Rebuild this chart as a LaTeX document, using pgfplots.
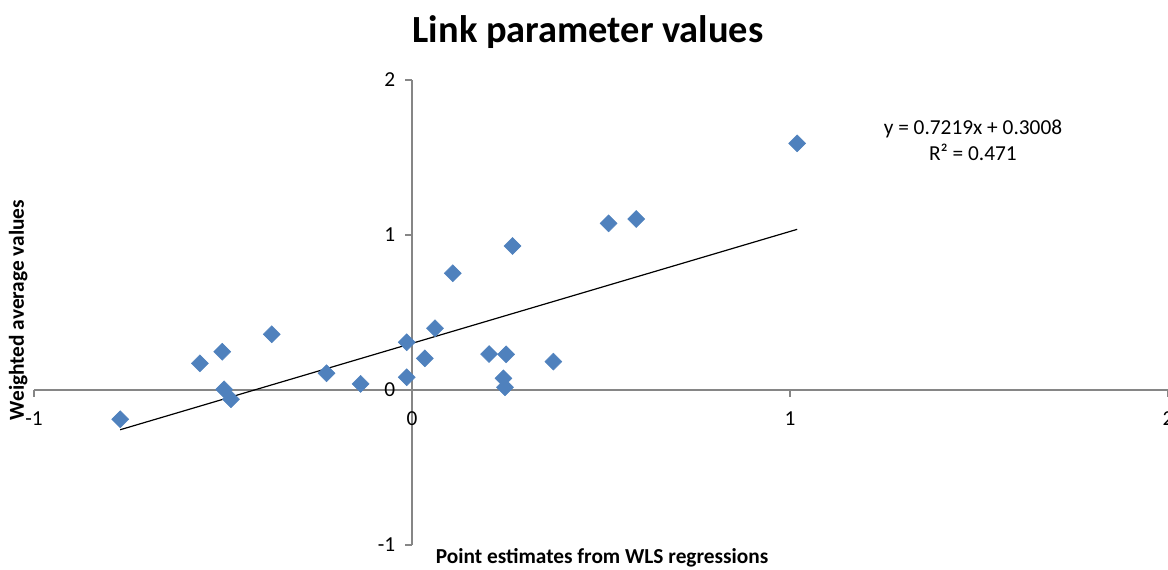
\documentclass[border=0pt]{standalone}
\usepackage{fontspec}
\setmainfont{Carlito}
\usepackage{pgfplots}
\pgfplotsset{compat=1.18}
\definecolor{exblue}{HTML}{4F81BD}
\definecolor{axgray}{HTML}{868686}
\begin{document}
\begin{tikzpicture}
\begin{axis}[
 scale only axis, width=850.5pt, height=348.75pt,
 xmin=-1, xmax=2, ymin=-1, ymax=2,
 axis lines=middle,
 axis line style={axgray, line width=0.9pt, -},
 xtick={-1,0,1,2}, ytick={-1,0,1,2},
 hide obscured x ticks=false, hide obscured y ticks=false,
 tick style={axgray, line width=0.9pt},
 major tick length=5pt, tick align=outside,
 ticklabel style={font=\fontsize{16}{19}\selectfont, text=black},
 /pgf/number format/assume math mode=true,
 xticklabel style={yshift=-8pt},
 yticklabel style={xshift=-4pt},
 clip=false,
]
\addplot[only marks, mark=square*, mark size=4.5pt, mark options={rotate=45, fill=exblue, draw=exblue}] coordinates {
(-0.772,-0.189) (-0.561,0.172) (-0.502,0.247) (-0.371,0.359) (-0.497,0.004)
(-0.479,-0.060) (-0.226,0.108) (-0.136,0.039) (-0.014,0.308) (-0.014,0.082)
(0.034,0.204) (0.061,0.398) (0.108,0.753) (0.266,0.929) (0.204,0.232)
(0.249,0.230) (0.374,0.183) (0.242,0.075) (0.246,0.017) (0.520,1.075)
(0.593,1.103) (1.019,1.591)
};
\addplot[black, line width=0.9pt] coordinates {(-0.772,-0.2565) (1.019,1.0364)};
\node[font=\fontsize{16}{19}\selectfont, align=center] at (axis cs:1.484,1.61) {y = 0.7219x + 0.3008\\R² = 0.471};
\node[font=\fontsize{28.8}{34}\selectfont\bfseries] at (axis cs:0.466,2.31) {Link parameter values};
\node[font=\fontsize{16}{19}\selectfont\bfseries, rotate=90] at (axis cs:-1.042,0.516) {Weighted average values};
\node[font=\fontsize{16}{19}\selectfont\bfseries] at (axis cs:0.503,-1.084) {Point estimates from WLS regressions};
\coordinate (bl) at (axis cs:-1.0899,-1.161);
\coordinate (tr) at (axis cs:2.0,2.516);
\end{axis}
\pgfresetboundingbox
\path[use as bounding box] (bl) rectangle (tr);
\end{tikzpicture}
\end{document}
